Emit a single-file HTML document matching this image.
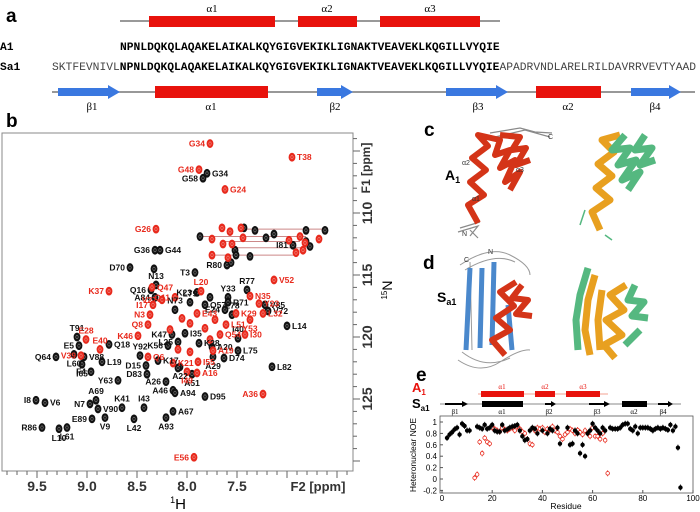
<!DOCTYPE html>
<html><head><meta charset="utf-8">
<style>
html,body{margin:0;padding:0;background:#fff;}
body{width:700px;height:512px;overflow:hidden;position:relative;font-family:"Liberation Sans",sans-serif;}
svg{position:absolute;left:0;top:0;}
.mono{font-family:"Liberation Mono",monospace;font-size:11.3px;}
</style></head>
<body>
<svg id="fig" width="700" height="512" viewBox="0 0 700 512">
 <g>
  <text x="6" y="22" font-size="19" font-weight="bold">a</text>
  <line x1="120" y1="21" x2="500" y2="21" stroke="#333" stroke-width="1"/>
  <rect x="149" y="16" width="126" height="11" fill="#e8120c"/>
  <rect x="298" y="16" width="59" height="11" fill="#e8120c"/>
  <rect x="380" y="16" width="100" height="11" fill="#e8120c"/>
  <text x="212" y="12" font-size="11" text-anchor="middle" font-family="Liberation Serif,serif">α1</text>
  <text x="327" y="12" font-size="11" text-anchor="middle" font-family="Liberation Serif,serif">α2</text>
  <text x="430" y="12" font-size="11" text-anchor="middle" font-family="Liberation Serif,serif">α3</text>
  <text x="0" y="50" class="mono" font-weight="bold">A1</text>
  <text x="120" y="50" class="mono" font-weight="bold">NPNLDQKQLAQAKELAIKALKQYGIGVEKIKLIGNAKTVEAVEKLKQGILLVYQIE</text>
  <text x="0" y="70" class="mono" font-weight="bold">Sa1</text>
  <text x="52" y="70" class="mono"><tspan fill="#444">SKTFEVNIVL</tspan><tspan font-weight="bold">NPNLDQKQLAQAKELAIKALKQYGIGVEKIKLIGNAKTVEAVEKLKQGILLVYQIE</tspan><tspan fill="#444">APADRVNDLARELRILDAVRRVEVTYAAD</tspan></text>
  <line x1="52" y1="92" x2="695" y2="92" stroke="#777" stroke-width="1.5"/>
  <polygon points="58,88 108,88 108,85 120,92 108,99 108,96 58,96" fill="#3a78e0"/>
  <rect x="155" y="86" width="113" height="12" fill="#e8120c"/>
  <polygon points="317,88 341,88 341,85 353,92 341,99 341,96 317,96" fill="#3a78e0"/>
  <polygon points="446,88 496,88 496,85 508,92 496,99 496,96 446,96" fill="#3a78e0"/>
  <rect x="536" y="86" width="65" height="12" fill="#e8120c"/>
  <polygon points="631,88 669,88 669,85 681,92 669,99 669,96 631,96" fill="#3a78e0"/>
  <g font-size="11" font-family="Liberation Serif,serif" text-anchor="middle">
   <text x="92" y="110">β1</text><text x="211" y="110">α1</text><text x="335" y="110">β2</text>
   <text x="478" y="110">β3</text><text x="568" y="110">α2</text><text x="655" y="110">β4</text>
  </g>
 </g>

 <g>
  <text x="6" y="127" font-size="19" font-weight="bold">b</text>
  <rect x="2" y="133" width="351" height="338" fill="none" stroke="#888" stroke-width="1"/>
  <g id="bLines"></g>
  <g id="bPeaks"></g>
  <g id="bLabels" font-size="8.5" font-weight="bold"></g>
  <g id="bXAxis"></g>
  <g id="bYAxis"></g>
  <text x="318" y="491" font-size="13" font-weight="bold" fill="#333" text-anchor="middle">F2 [ppm]</text>
  <text x="178" y="509" font-size="15" text-anchor="middle"><tspan font-size="9" dy="-6">1</tspan><tspan dy="6">H</tspan></text>
  <text transform="translate(370,168) rotate(-90)" font-size="12" font-weight="bold" fill="#333" text-anchor="middle">F1 [ppm]</text>
  <text transform="translate(392,290) rotate(-90)" font-size="14" text-anchor="middle"><tspan font-size="8" dy="-5">15</tspan><tspan dy="5">N</tspan></text>
 </g>

 <g>
  <text x="424" y="136" font-size="19" font-weight="bold">c</text>
  <text x="445" y="180" font-size="14" font-weight="bold">A<tspan font-size="9" dy="3">1</tspan></text>
  <g stroke="#8a8a8a" stroke-width="1.2" fill="none">
   <path d="M490,133 L520,128 L535,132 L552,133 M495,137 L525,130 L550,137 M460,228 L480,222 M458,232 L478,226 L470,236 M470,230 L478,238"/>
  </g>
  <path d="M478,223 L468,205 L484,195 L470,182 L486,170 L472,158 L488,146 L478,135 L500,140 L495,155 L510,150 L500,168 L515,160 L505,182 L520,172 L510,190 M500,135 L520,137 L512,150 L526,148 L516,165 L530,160" stroke="#d43418" stroke-width="6" fill="none" stroke-linejoin="round"/>
  <text x="462" y="165" font-size="7" fill="#333">α2</text>
  <text x="516" y="172" font-size="7" fill="#333">α3</text>
  <text x="472" y="201" font-size="7" fill="#333">α1</text>
  <text x="548" y="139" font-size="7" fill="#333">C</text>
  <text x="462" y="236" font-size="7" fill="#333">N</text>
  <g stroke-width="7" fill="none" stroke-linejoin="round">
   <path d="M600,230 L592,212 L610,200 L596,188 L612,176 L598,164 L614,152 L602,140 L620,135" stroke="#e8a020"/>
   <path d="M625,135 L612,150 L630,148 L618,165 L636,160 L622,180 L640,172 L628,190 M645,135 L635,150 L652,148 L640,165 L655,160" stroke="#55b880"/>
   <path d="M580,225 L585,210 M605,235 L612,240" stroke="#55b880" stroke-width="1.5"/>
  </g>
 </g>
 <g>
  <text x="423" y="269" font-size="19" font-weight="bold">d</text>
  <text x="437" y="302" font-size="14" font-weight="bold">S<tspan font-size="9" dy="3">a1</tspan></text>
  <g stroke="#9a9a9a" stroke-width="1" fill="none">
   <path d="M460,265 Q490,245 510,255 T530,275 M465,270 Q495,252 515,262 M458,360 Q480,375 500,362 T530,350 M462,352 Q485,370 510,358 M470,262 L472,350"/>
  </g>
  <g stroke="#4a88cc" stroke-width="5" fill="none">
   <path d="M470,268 L466,350 M482,268 L480,348 M494,262 L492,345 M508,305 L512,350"/>
  </g>
  <path d="M505,355 L492,340 L510,330 L496,318 L514,306 L500,292 L516,282 M522,285 L512,298 L528,300 L516,314 L532,316" stroke="#d43418" stroke-width="6" fill="none" stroke-linejoin="round"/>
  <text x="488" y="254" font-size="7" fill="#333">N</text>
  <text x="464" y="262" font-size="7" fill="#333">C</text>
  <g stroke-width="7" fill="none" stroke-linejoin="round">
   <path d="M590,355 L585,330 L588,300 L595,275" stroke="#e8a020"/>
   <path d="M600,350 L598,320 L602,290" stroke="#e8a020"/>
   <path d="M615,358 L604,345 L622,335 L606,320 L624,310 L610,295 L626,285" stroke="#e8a020"/>
   <path d="M578,350 L576,320 L580,295 L588,268 M635,285 L628,300 L644,302 L632,316 L648,318 M640,330 L625,345" stroke="#55b880"/>
  </g>
 </g>

 <g>
  <text x="416" y="381" font-size="19" font-weight="bold">e</text>
  <text x="412" y="392" font-size="13" font-weight="bold" fill="#e8120c">A<tspan font-size="8" dy="3">1</tspan></text>
  <text x="412" y="408" font-size="13" font-weight="bold">S<tspan font-size="8" dy="3">a1</tspan></text>
  <line x1="478" y1="394" x2="608" y2="394" stroke="#f3a090" stroke-width="1"/>
  <rect x="481" y="391" width="43" height="6" fill="#e8120c"/>
  <rect x="535" y="391" width="20" height="6" fill="#e8120c"/>
  <rect x="566" y="391" width="34" height="6" fill="#e8120c"/>
  <g font-size="7" font-family="Liberation Serif,serif" fill="#e8120c" text-anchor="middle">
   <text x="502" y="389">α1</text><text x="545" y="389">α2</text><text x="583" y="389">α3</text>
  </g>
  <line x1="440" y1="404" x2="681" y2="404" stroke="#888" stroke-width="1"/>
  <polygon points="445,403 462,403 462,401 468,404 462,407 462,405 445,405" fill="#000"/>
  <rect x="482" y="401" width="41" height="6" fill="#000"/>
  <polygon points="545,403 551,403 551,401 556,404 551,407 551,405 545,405" fill="#000"/>
  <polygon points="589,403 604,403 604,401 610,404 604,407 604,405 589,405" fill="#000"/>
  <rect x="622" y="401" width="25" height="6" fill="#000"/>
  <polygon points="658,403 668,403 668,401 673,404 668,407 668,405 658,405" fill="#000"/>
  <g font-size="7" font-family="Liberation Serif,serif" text-anchor="middle">
   <text x="455" y="414">β1</text><text x="502" y="414">α1</text><text x="549" y="414">β2</text>
   <text x="597" y="414">β3</text><text x="634" y="414">α2</text><text x="663" y="414">β4</text>
  </g>
  <rect x="440" y="416" width="253" height="77" fill="none" stroke="#555" stroke-width="0.8"/>
  <g id="eAxes"></g>
  <g id="eMarks"></g>
  <text transform="translate(416,455) rotate(-90)" font-size="8.5" text-anchor="middle">Heteronuclear NOE</text>
  <text x="566" y="509" font-size="8.5" text-anchor="middle">Residue</text>
 </g>
</svg>
<script>
const blackPeaks = [
 [7.80,106.8,'G34','r'],[7.84,107.2,'G58','l'],[8.32,113.0,'G36','l'],[8.27,113.0,'G44','r'],[8.57,114.4,'D70','l'],
 [7.92,114.8,'T3','l'],[7.60,114.2,'R80','l'],[8.33,114.5,'',''],[8.31,115.8,'N13','u'],[8.36,116.2,'Q16','l'],
 [8.32,116.8,'A84','l'],[7.90,116.4,'K23','l'],[7.77,116.8,'',''],[7.40,116.2,'R77','u'],[7.59,116.8,'Y33','u'],[7.59,117.2,'R71','r'],
 [7.22,117.4,'V85','r'],[7.19,117.9,'V72','r'],[7.00,119.1,'L14','r'],[7.97,117.2,'L79','u'],[7.82,117.4,'Q57','r'],
 [7.62,117.8,'E24','l'],[7.55,118.2,'E78','u'],[8.12,117.8,'N73','u'],[7.49,120.1,'I40','u'],[7.49,121.1,'L75','r'],
 [7.75,120.8,'A20','r'],[7.63,121.7,'D74','r'],[7.74,121.6,'A29','d'],[7.88,120.5,'K28','r'],[7.15,122.4,'L82','r'],
 [7.95,123.0,'A51','d'],[8.07,122.4,'A22','d'],[8.40,123.0,'D83','l'],[8.21,123.6,'A26','l'],[8.14,124.3,'A46','l'],
 [8.12,124.5,'A94','r'],[7.82,124.8,'D95','r'],[8.14,126.0,'A67','r'],[8.21,126.5,'A93','d'],[8.53,126.6,'L42','d'],
 [8.43,125.7,'I43','u'],[8.65,125.7,'K41','u'],[8.91,125.1,'A69','u'],[8.97,125.4,'N7','l'],[8.89,125.8,'V90','r'],
 [8.95,126.6,'E89','l'],[8.82,126.5,'V9','d'],[9.51,125.1,'I8','l'],[9.42,125.3,'V6','r'],[9.45,127.3,'R86','l'],
 [9.28,127.4,'L10','d'],[9.20,127.3,'L61','d'],[9.31,121.6,'Q64','l'],[9.13,121.4,'L60','d'],[9.08,120.7,'E5','l'],
 [9.03,121.6,'V88','r'],[8.96,122.8,'F4','l'],[8.69,123.5,'Y63','l'],[8.85,122.0,'L19','r'],[8.78,120.6,'Q18','r'],
 [8.41,122.3,'D15','l'],[8.47,121.5,'Y92','u'],[8.19,120.7,'K56','l'],[8.29,121.9,'K17','r'],[8.09,122.5,'',''],
 [8.15,119.8,'K47','l'],[8.09,120.4,'L25','l'],[8.02,119.7,'I35','r'],[9.05,122.2,'I65','d'],[9.10,120.0,'T91','u'],
 [7.87,111.9,'',''],[7.43,111.2,'',''],[7.32,111.4,'',''],[7.13,111.7,'',''],[6.81,111.4,'',''],[6.81,112.3,'',''],
 [6.62,111.4,'',''],[7.21,112.0,'',''],[6.94,112.6,'I81','l'],[6.77,112.7,'',''],[7.52,113.0,'',''],[7.51,113.4,'',''],
 [7.56,114.0,'',''],[7.37,113.5,'','']
];
const redPeaks = [
 [7.77,104.4,'G34','l'],[6.95,105.5,'T38','r'],[7.88,106.5,'G48','l'],[7.62,108.1,'G24','r'],[8.31,111.3,'G26','l'],
 [8.78,116.3,'K37','l'],[7.13,115.4,'V52','r'],[7.86,116.3,'L20','u'],[8.35,116.0,'Q47','r'],[7.37,116.7,'N35','r'],
 [7.28,117.3,'Y23','r'],[7.51,118.1,'K29','r'],[7.24,118.1,'L32','r'],[7.37,118.6,'Y53','d'],[7.61,119.0,'L51','r'],
 [7.90,118.1,'E43','r'],[8.34,117.4,'I17','l'],[8.25,117.0,'V27','l'],[8.12,116.8,'Q11','l'],[8.37,118.2,'N3','l'],
 [8.39,119.0,'Q8','l'],[8.49,119.9,'K46','l'],[9.01,120.2,'E28','u'],[8.87,121.0,'E40','u'],[9.06,121.5,'V39','l'],
 [8.39,121.6,'Q6','r'],[8.14,122.1,'K21','r'],[7.74,121.1,'A19','r'],[7.89,122.0,'I55','r'],[7.90,122.9,'A16','r'],
 [8.00,122.8,'I49','d'],[7.42,119.8,'I30','r'],[7.67,119.8,'Q54','r'],[7.24,124.6,'A36','l'],[7.93,129.7,'E56','l'],
 [8.17,119.4,'',''],[8.05,118.5,'',''],[7.97,118.9,'',''],[7.82,119.3,'',''],[7.72,118.6,'',''],[8.09,121.0,'',''],
 [7.97,121.2,'',''],[7.77,120.2,'',''],
 [7.65,111.2,'',''],[7.57,111.5,'',''],[7.46,111.2,'',''],[7.44,112.0,'',''],[7.75,112.1,'',''],[7.64,112.5,'',''],
 [7.55,112.5,'',''],[6.98,112.2,'',''],[6.87,111.9,'',''],[6.82,112.4,'',''],[6.68,112.1,'',''],[6.91,113.2,'',''],
 [6.84,113.0,'',''],[7.75,113.4,'',''],[7.59,113.6,'','']
];
const pairLines = [[7.42,6.62,111.3],[7.87,6.81,111.9],[7.65,6.87,112.3],[7.52,6.77,112.8],[7.75,6.91,113.4]];
const hTicks = [9.5,9.0,8.5,8.0,7.5];
const nTicks = [110,115,120,125];

const sa1Residues = [2,3,4,5,6,7,8,9,10,11,14,15,16,17,18,19,20,21,22,23,24,25,26,27,28,29,30,31,32,33,34,35,36,37,38,40,42,43,44,46,47,50,51,52,53,54,55,56,57,58,59,60,61,62,63,64,65,67,68,69,70,71,72,73,74,75,76,77,78,79,80,81,82,83,84,85,86,87,88,89,90,91,92,93,94,95];
const sa1Noe = [0.72,0.78,0.82,0.87,0.9,0.78,0.97,0.93,0.85,0.85,0.92,0.9,0.88,0.95,0.88,0.9,0.95,0.85,0.83,0.83,0.95,0.85,0.87,0.9,0.92,0.93,0.95,0.85,0.75,0.68,0.7,0.85,0.9,0.88,0.8,0.85,0.8,0.88,0.85,0.9,0.62,0.9,0.6,0.62,0.85,0.8,0.45,0.6,0.4,0.8,0.85,0.97,0.9,0.85,0.8,0.9,0.85,0.9,0.88,0.88,0.88,0.9,0.95,0.97,0.97,0.88,0.85,0.92,0.8,0.9,0.9,0.9,0.9,0.88,0.85,0.88,0.9,0.88,0.9,0.88,0.86,0.95,0.85,0.92,0.55,-0.15];
const a1Residues = [13,14,15,16,17,18,19,20,21,22,23,24,25,26,27,28,29,30,31,32,33,34,35,36,37,38,39,40,41,42,43,44,45,46,47,48,49,50,51,52,53,54,55,56,57,58,59,60,61,62,63,64,65,66];
const a1Noe = [0.02,0.08,0.65,0.45,0.72,0.65,0.62,0.9,0.88,0.85,0.83,0.9,0.87,0.85,0.88,0.9,0.85,0.92,0.88,0.83,0.8,0.7,0.62,0.6,0.85,0.9,0.88,0.9,0.82,0.88,0.86,0.92,0.85,0.82,0.75,0.7,0.78,0.82,0.88,0.85,0.8,0.86,0.82,0.78,0.85,0.8,0.75,0.9,0.75,0.75,0.7,0.8,0.68,0.1];
const resTicks = [0,20,40,60,80,100];
const noeTicks = [-0.2,0,0.2,0.4,0.6,0.8,1];

const NS='http://www.w3.org/2000/svg';
function mk(tag, attrs, parent){const e=document.createElementNS(NS,tag);for(const k in attrs)e.setAttribute(k,attrs[k]);parent.appendChild(e);return e;}
const hx = h => 37 + (9.5 - h) * 100;
const ny = n => 213 + (n - 110) * 12.4;
const rx = r => 442 + r * 2.51;
const vy = v => 479 - v * 57;

const gLines=document.getElementById('bLines'), gP=document.getElementById('bPeaks'), gL=document.getElementById('bLabels');
pairLines.forEach(s=>{
 const l=mk('line',{x1:hx(s[0]),x2:hx(s[1]),y1:ny(s[2]),y2:ny(s[2]),stroke:'#c88',"stroke-width":1},gLines);
 
 
});
function drawPeaks(arr,color,name){
 arr.forEach(p=>{
  const x=hx(p[0]), y=ny(p[1]);
  const e=mk('ellipse',{cx:x,cy:y,rx:3.1,ry:4.1,fill:color,stroke:color,"stroke-width":0.6},gP);
  
  
  mk('ellipse',{cx:x,cy:y,rx:1.2,ry:1.8,fill:'none',stroke:'#fff',"stroke-width":0.5,opacity:0.6},gP);
  if(p[2]){
   let tx=x, ty=y+3, anchor='start';
   if(p[3]==='r'){tx=x+5;}
   else if(p[3]==='l'){tx=x-5;anchor='end';}
   else if(p[3]==='u'){ty=y-6;anchor='middle';}
   else if(p[3]==='d'){ty=y+12;anchor='middle';}
   const t=mk('text',{x:tx,y:ty,"text-anchor":anchor,fill:color},gL);
   t.textContent=p[2];
   
   
  }
 });
}
drawPeaks(blackPeaks,'#111','sa1');
drawPeaks(redPeaks,'#e8291c','a1');

const gx=document.getElementById('bXAxis');
for(let i=64;i<=98;i++){
 const h=i/10, x=hx(h); const major=(i%5===0);
 mk('line',{x1:x,x2:x,y1:471,y2:471+(major?7:4),stroke:'#666',"stroke-width":1},gx);
}
hTicks.forEach(h=>{
 const t=mk('text',{x:hx(h),y:491,"text-anchor":"middle","font-size":14,"font-weight":"bold",fill:'#333'},gx);
 t.textContent=h.toFixed(1);
 
 
});
const gy=document.getElementById('bYAxis');
for(let n=104;n<=130;n++){
 const y=ny(n); const major=(n%5===0);
 mk('line',{x1:353,x2:353+(major?7:4),y1:y,y2:y,stroke:'#666',"stroke-width":1},gy);
}
nTicks.forEach(n=>{
 const t=mk('text',{transform:`translate(372,${ny(n)}) rotate(-90)`,"text-anchor":"middle","font-size":14,"font-weight":"bold",fill:'#333'},gy);
 t.textContent=n;
 
 
});

const gA=document.getElementById('eAxes'), gM=document.getElementById('eMarks');
resTicks.forEach(r=>{
 mk('line',{x1:rx(r),x2:rx(r),y1:493,y2:490,stroke:'#555'},gA);
 const t=mk('text',{x:rx(r),y:501,"text-anchor":"middle","font-size":8},gA);
 t.textContent=r;
 
 
});
noeTicks.forEach(v=>{
 mk('line',{x1:440,x2:443,y1:vy(v),y2:vy(v),stroke:'#555'},gA);
 const t=mk('text',{x:437,y:vy(v)+3,"text-anchor":"end","font-size":8},gA);
 t.textContent=(v===0||v===1)?String(v):v.toFixed(1);
 
 
});
function drawNoe(res,vals,color,name,filled){
 res.forEach((r,i)=>{
  const x=rx(r), y=vy(vals[i]);
  mk('line',{x1:x,x2:x,y1:y-3,y2:y+3,stroke:color,"stroke-width":0.8},gM);
  const c=mk('circle',{cx:x,cy:y,r:1.8,fill:filled?color:'#fff',stroke:color,"stroke-width":0.8},gM);
  
  
 });
}
drawNoe(a1Residues,a1Noe,'#e8291c','a1',false);
drawNoe(sa1Residues,sa1Noe,'#000','sa1',true);
</script>
</body></html>
